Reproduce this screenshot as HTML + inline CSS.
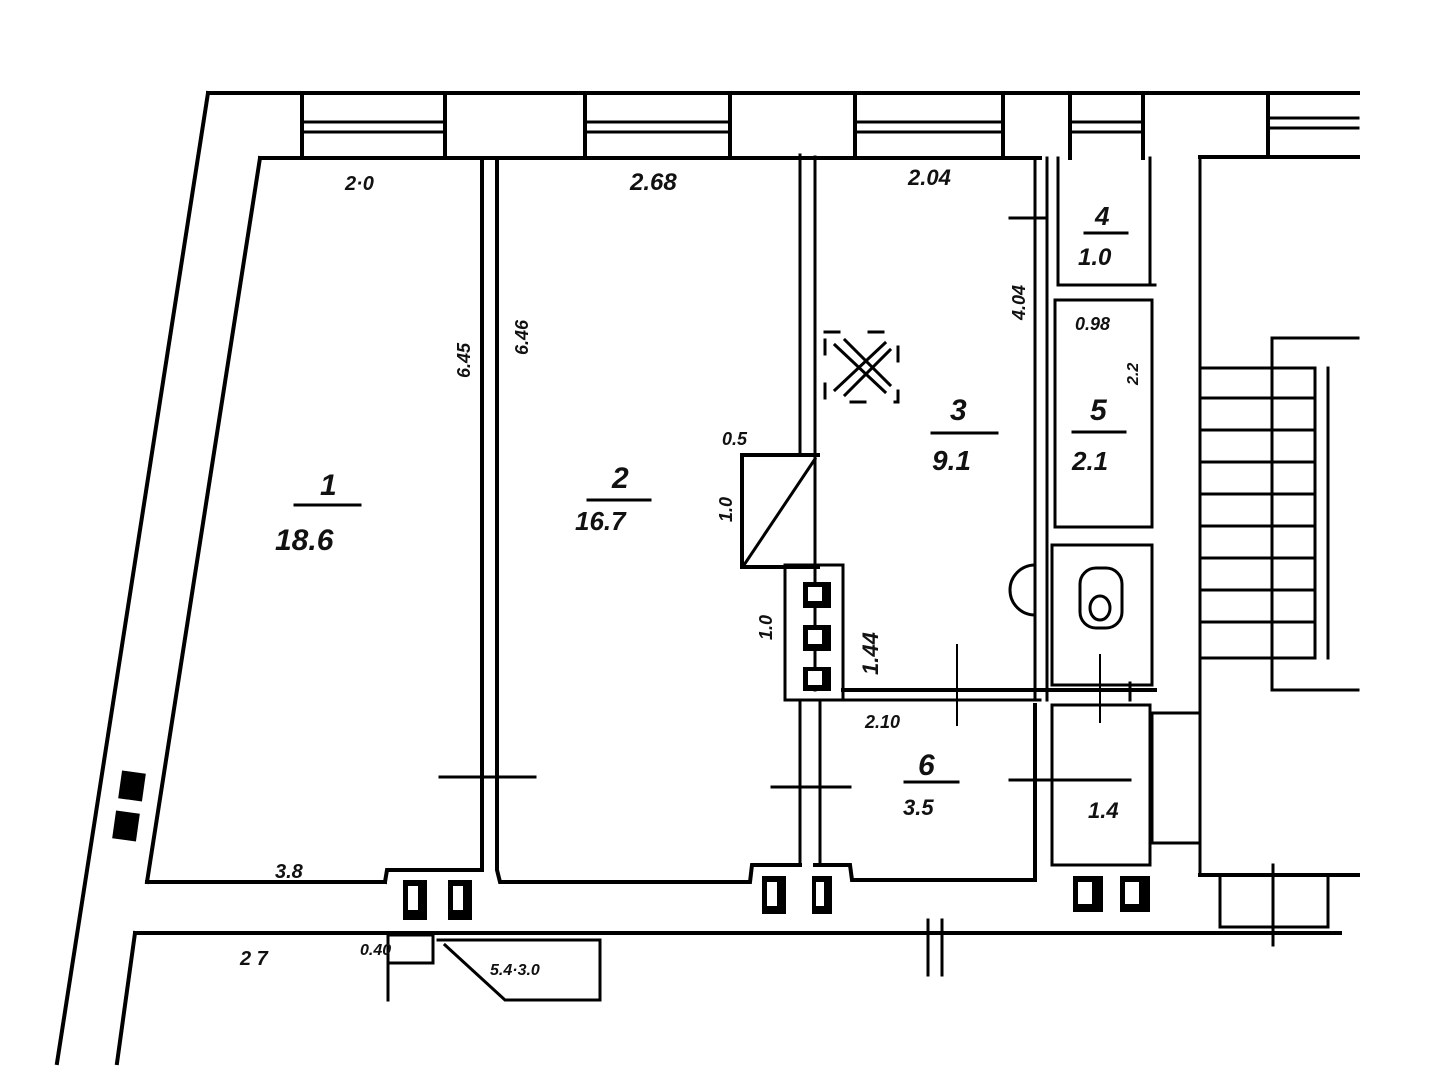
<!DOCTYPE html>
<html><head><style>
body{margin:0;background:#fff}
svg{display:block}
text{font-family:"Liberation Sans",sans-serif;font-style:italic;font-weight:bold;fill:#111}
</style></head><body>
<svg width="1455" height="1084" viewBox="0 0 1455 1084" xmlns="http://www.w3.org/2000/svg">
<g stroke="#000" stroke-width="4" fill="none" stroke-linecap="square">
<!-- outer top wall -->
<line x1="208" y1="93" x2="1358" y2="93"/>
<line x1="260" y1="158" x2="1040" y2="158"/>
<line x1="1200" y1="157" x2="1358" y2="157"/>
<!-- window piers -->
<line x1="302" y1="93" x2="302" y2="158"/><line x1="445" y1="93" x2="445" y2="158"/>
<line x1="585" y1="93" x2="585" y2="158"/><line x1="730" y1="93" x2="730" y2="158"/>
<line x1="855" y1="93" x2="855" y2="158"/><line x1="1003" y1="93" x2="1003" y2="158"/>
<line x1="1070" y1="93" x2="1070" y2="158"/><line x1="1143" y1="93" x2="1143" y2="158"/>
<line x1="1268" y1="93" x2="1268" y2="157"/>
<!-- window glazing -->
<g stroke-width="3">
<line x1="302" y1="122" x2="445" y2="122"/><line x1="302" y1="132" x2="445" y2="132"/>
<line x1="585" y1="122" x2="730" y2="122"/><line x1="585" y1="132" x2="730" y2="132"/>
<line x1="855" y1="122" x2="1003" y2="122"/><line x1="855" y1="132" x2="1003" y2="132"/>
<line x1="1070" y1="122" x2="1143" y2="122"/><line x1="1070" y1="132" x2="1143" y2="132"/>
<line x1="1268" y1="118" x2="1358" y2="118"/><line x1="1268" y1="128" x2="1358" y2="128"/>
</g>
<!-- left outer walls -->
<line x1="208" y1="93" x2="57" y2="1063"/>
<line x1="260" y1="158" x2="147" y2="882"/>
<line x1="135" y1="933" x2="117" y2="1063"/>
<!-- room 1/2 bottoms -->
<line x1="147" y1="882" x2="385" y2="882"/>
<polyline points="385,882 387,870 482,870 482,160"/>
<polyline points="497,160 497,870 500,882 750,882 752,865 800,865"/>
<polyline points="815,865 850,865 852,880 1035,880 1035,705"/>
<!-- partition 1-2 -->
<line x1="482" y1="160" x2="482" y2="870" stroke-width="3"/>
<line x1="497" y1="160" x2="497" y2="870" stroke-width="3"/>
<line x1="440" y1="777" x2="535" y2="777" stroke-width="3"/>
<!-- partition 2-3 -->
<line x1="800" y1="155" x2="800" y2="455" stroke-width="3"/>
<line x1="815" y1="157" x2="815" y2="690" stroke-width="3"/>
<!-- duct 0.5 -->
<polyline points="742,455 818,455"/>
<line x1="742" y1="455" x2="742" y2="567"/>
<line x1="742" y1="567" x2="818" y2="567"/>
<line x1="744" y1="565" x2="815" y2="459" stroke-width="3"/>
<!-- vent block -->
<rect x="785" y="565" width="58" height="135" stroke-width="3"/>
<line x1="843" y1="690" x2="1155" y2="690"/>
<line x1="843" y1="700" x2="1040" y2="700" stroke-width="3"/>
<line x1="800" y1="700" x2="800" y2="865" stroke-width="3"/>
<line x1="820" y1="700" x2="820" y2="865" stroke-width="3"/>
<line x1="772" y1="787" x2="850" y2="787" stroke-width="3"/>
<line x1="957" y1="645" x2="957" y2="725" stroke-width="2"/>
<!-- room 3 right wall -->
<line x1="1035" y1="158" x2="1035" y2="700" stroke-width="3"/>
<line x1="1047" y1="158" x2="1047" y2="700" stroke-width="3"/>
<line x1="1010" y1="218" x2="1047" y2="218" stroke-width="3"/>
<!-- room 4 -->
<polyline points="1058,158 1058,285 1155,285" stroke-width="3"/>
<line x1="1150" y1="158" x2="1150" y2="285" stroke-width="3"/>
<!-- room 5 -->
<rect x="1055" y="300" width="97" height="227" stroke-width="3"/>
<rect x="1052" y="545" width="100" height="140" stroke-width="3"/>
<line x1="1100" y1="655" x2="1100" y2="722" stroke-width="2"/>
<line x1="1130" y1="683" x2="1130" y2="700" stroke-width="3"/>
<!-- room 1.4 -->
<rect x="1052" y="705" width="98" height="160" stroke-width="3"/>
<line x1="1010" y1="780" x2="1130" y2="780" stroke-width="3"/>
<!-- stair block -->
<line x1="1200" y1="157" x2="1200" y2="875" stroke-width="3"/>
<rect x="1152" y="713" width="48" height="130" stroke-width="3"/>
<polyline points="1358,338 1272,338 1272,690 1358,690" stroke-width="3"/>
<rect x="1200" y="368" width="115" height="290" stroke-width="3"/>
<line x1="1328" y1="368" x2="1328" y2="658" stroke-width="3"/>
<g stroke-width="3">
<line x1="1200" y1="398" x2="1315" y2="398"/><line x1="1200" y1="430" x2="1315" y2="430"/>
<line x1="1200" y1="462" x2="1315" y2="462"/><line x1="1200" y1="494" x2="1315" y2="494"/>
<line x1="1200" y1="526" x2="1315" y2="526"/><line x1="1200" y1="558" x2="1315" y2="558"/>
<line x1="1200" y1="590" x2="1315" y2="590"/><line x1="1200" y1="622" x2="1315" y2="622"/>
</g>
<line x1="1200" y1="875" x2="1358" y2="875"/>
<rect x="1220" y="875" width="108" height="52" stroke-width="3"/>
<line x1="1273" y1="865" x2="1273" y2="945" stroke-width="3"/>
<!-- corridor line -->
<line x1="135" y1="933" x2="1340" y2="933"/>
<line x1="928" y1="920" x2="928" y2="975" stroke-width="3"/>
<line x1="942" y1="920" x2="942" y2="975" stroke-width="3"/>
<!-- stair down -->
<rect x="388" y="935" width="45" height="28" stroke-width="3"/>
<line x1="388" y1="963" x2="388" y2="1000" stroke-width="3"/>
<polyline points="438,940 600,940 600,1000 505,1000 445,945" stroke-width="3"/>
<!-- fan -->
<rect x="825" y="332" width="73" height="70" stroke-width="3" stroke-dasharray="14 30"/>
<line x1="835" y1="345" x2="885" y2="392" stroke-width="3"/><line x1="845" y1="340" x2="890" y2="385" stroke-width="3"/>
<line x1="835" y1="390" x2="885" y2="343" stroke-width="3"/><line x1="845" y1="395" x2="890" y2="350" stroke-width="3"/>
<!-- toilet -->
<rect x="1080" y="568" width="42" height="60" rx="16" stroke-width="3"/>
<ellipse cx="1100" cy="608" rx="10" ry="12" stroke-width="3"/>
<path d="M1035 565 A25 25 0 0 0 1035 615" stroke-width="3"/>
<!-- fraction bars -->
<line x1="295" y1="505" x2="360" y2="505" stroke-width="3"/>
<line x1="588" y1="500" x2="650" y2="500" stroke-width="3"/>
<line x1="932" y1="433" x2="997" y2="433" stroke-width="3"/>
<line x1="1085" y1="233" x2="1127" y2="233" stroke-width="3"/>
<line x1="1073" y1="432" x2="1125" y2="432" stroke-width="3"/>
<line x1="905" y1="782" x2="958" y2="782" stroke-width="3"/>
</g>
<!-- flue boxes -->
<g fill="#000">
<rect x="803" y="582" width="28" height="26"/><rect x="803" y="625" width="28" height="26"/><rect x="803" y="667" width="28" height="24"/>
<rect x="120" y="772" width="24" height="28" transform="rotate(8 132 786)"/><rect x="114" y="812" width="24" height="28" transform="rotate(8 126 826)"/>
<rect x="403" y="880" width="24" height="40"/><rect x="448" y="880" width="24" height="40"/>
<rect x="762" y="876" width="24" height="38"/><rect x="812" y="876" width="20" height="38"/>
<rect x="1073" y="876" width="30" height="36"/><rect x="1120" y="876" width="30" height="36"/>
</g>
<g fill="#fff">
<rect x="808" y="587" width="14" height="14"/><rect x="808" y="630" width="14" height="14"/><rect x="808" y="671" width="14" height="14"/>
<rect x="408" y="886" width="10" height="24"/><rect x="453" y="886" width="10" height="24"/>
<rect x="767" y="882" width="10" height="24"/><rect x="816" y="882" width="8" height="24"/>
<rect x="1078" y="882" width="14" height="22"/><rect x="1125" y="882" width="14" height="22"/>
</g>
<!-- labels -->
<text x="345" y="190" font-size="20">2·0</text>
<text x="630" y="190" font-size="24">2.68</text>
<text x="908" y="185" font-size="22">2.04</text>
<text x="320" y="495" font-size="30">1</text>
<text x="275" y="550" font-size="30">18.6</text>
<text x="612" y="488" font-size="30">2</text>
<text x="575" y="530" font-size="26">16.7</text>
<text x="950" y="420" font-size="30">3</text>
<text x="932" y="470" font-size="28">9.1</text>
<text x="1095" y="225" font-size="26">4</text>
<text x="1078" y="265" font-size="24">1.0</text>
<text x="1090" y="420" font-size="30">5</text>
<text x="1072" y="470" font-size="26">2.1</text>
<text x="918" y="775" font-size="30">6</text>
<text x="903" y="815" font-size="22">3.5</text>
<text x="1088" y="818" font-size="22">1.4</text>
<text x="722" y="445" font-size="18">0.5</text>
<text x="1075" y="330" font-size="18">0.98</text>
<text x="865" y="728" font-size="18">2.10</text>
<text x="275" y="878" font-size="20">3.8</text>
<text x="240" y="965" font-size="20">2 7</text>
<text x="360" y="955" font-size="16">0.40</text>
<text x="490" y="975" font-size="16">5.4·3.0</text>
<text font-size="18" transform="translate(470 378) rotate(-90)">6.45</text>
<text font-size="18" transform="translate(528 355) rotate(-90)">6.46</text>
<text font-size="18" transform="translate(732 522) rotate(-90)">1.0</text>
<text font-size="18" transform="translate(772 640) rotate(-90)">1.0</text>
<text font-size="22" transform="translate(878 675) rotate(-90)">1.44</text>
<text font-size="18" transform="translate(1025 320) rotate(-90)">4.04</text>
<text font-size="16" transform="translate(1138 385) rotate(-90)">2.2</text>
</svg>
</body></html>
